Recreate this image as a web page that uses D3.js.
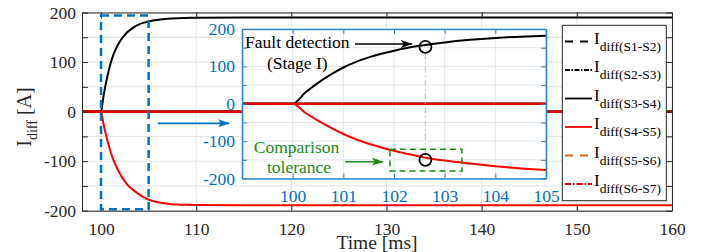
<!DOCTYPE html>
<html><head><meta charset="utf-8">
<script src="https://cdn.jsdelivr.net/npm/d3@7"></script>
<style>body{margin:0;background:#fff}svg{display:block}text{font-family:"Liberation Serif","Times New Roman",serif}</style>
</head><body><svg id="c" width="710" height="252"></svg>
<script>
// ---- data ----
const time = [98,100,100.25,100.5,100.75,101,101.25,101.5,101.75,102,102.25,102.5,102.75,103,103.5,104,104.5,105,106,107,108,109,110,115,120,130,140,150,160];
const iS34 = [0,0,30,56,78,97,112,124,134,142,149,155,160,164,171,176,179.5,182,185.5,187.5,188.5,189,189.5,190,190,190,190,190,190];
const iS45 = [0,0,-24,-45,-64,-81,-95,-107,-117,-126,-134,-141,-147,-152,-160,-167,-173,-177.5,-183,-186,-187.5,-188.2,-188.6,-189,-189,-189,-189,-189,-189];
const zeroT = [98,160];
const zeroI = [0,0];
const seriesNames = ["S1-S2","S2-S3","S3-S4","S4-S5","S5-S6","S6-S7"];
const seriesColors = ["#000000","#000000","#000000","#ff0000","#e8601c","#e00000"];
const seriesDash = ["8,7","5,1.5,1.5,1.5",null,null,"8,7","6,2,1.5,2"];
const mainXTicks = [100,110,120,130,140,150,160];
const mainYTicks = [-200,-150,-100,-50,0,50,100,150,200];
const insetXTicks = [100,101,102,103,104,105];
const insetYTicks = [-200,-150,-100,-50,0,50,100,150,200];
const detectT = 102.62, detectUp = 152, detectDown = -150;
const tolT = [101.92,103.34], tolI = [-180,-122];
const zoomT = [100,105], zoomI = [-197,194];

const svg = d3.select("#c");
const blue = "#0072BD";
const mx = d3.scaleLinear().domain([98,160]).range([82,672]);
const my = d3.scaleLinear().domain([-200,200]).range([210.7,12.5]);
const ix = d3.scaleLinear().domain([99,105]).range([242,546]);
const iy = d3.scaleLinear().domain([-200,200]).range([178.5,29]);

const defs = svg.append("defs");
defs.append("clipPath").attr("id","cm").append("rect").attr("x",82).attr("y",12.5).attr("width",590).attr("height",198.2);
defs.append("clipPath").attr("id","ci").append("rect").attr("x",242).attr("y",29).attr("width",304).attr("height",149.5);
function marker(id,color){
  defs.append("marker").attr("id",id).attr("viewBox","0 0 12 10").attr("refX",11).attr("refY",5)
   .attr("markerWidth",12).attr("markerHeight",10).attr("markerUnits","userSpaceOnUse").attr("orient","auto")
   .append("path").attr("d","M0,1 L12,5 L0,9 L3,5 Z").attr("fill",color);
}
marker("ab",blue); marker("ak","#000"); marker("ag","#1a8a1a");

// main grid
const mg = svg.append("g");
mainXTicks.forEach(t=>mg.append("line").attr("x1",mx(t)).attr("x2",mx(t)).attr("y1",12.5).attr("y2",210.7).attr("stroke","#e2e2e2"));
mainYTicks.forEach(v=>mg.append("line").attr("x1",82).attr("x2",672).attr("y1",my(v)).attr("y2",my(v)).attr("stroke","#e2e2e2"));

function drawSeries(g,xs,ys){
  const line = d3.line().x(d=>xs(d[0])).y(d=>ys(d[1])).curve(d3.curveMonotoneX);
  const zeroData = zeroT.map((t,i)=>[t,zeroI[i]]);
  [0,1,4].forEach(k=>g.append("path").attr("d",line(zeroData)).attr("fill","none").attr("stroke",seriesColors[k]).attr("stroke-width",2));
  g.append("path").attr("d",line(time.map((t,i)=>[t,iS34[i]]))).attr("fill","none").attr("stroke",seriesColors[2]).attr("stroke-width",2);
  g.append("path").attr("d",line(time.map((t,i)=>[t,iS45[i]]))).attr("fill","none").attr("stroke",seriesColors[3]).attr("stroke-width",2);
  g.append("path").attr("d",line(zeroData)).attr("fill","none").attr("stroke",seriesColors[5]).attr("stroke-width",2.2);
}
drawSeries(svg.append("g").attr("clip-path","url(#cm)"),mx,my);

// main axes
function fmt(d){return d%100===0?String(d):"";}
const ax = svg.append("g");
ax.append("g").attr("transform","translate(0,210.7)").call(d3.axisBottom(mx).tickValues(mainXTicks).tickSizeInner(-6).tickSizeOuter(0).tickPadding(12).tickFormat(String));
ax.append("g").attr("transform","translate(0,12.5)").call(d3.axisTop(mx).tickValues(mainXTicks).tickSizeInner(-6).tickSizeOuter(0).tickFormat(""));
ax.append("g").attr("transform","translate(82,0)").call(d3.axisLeft(my).tickValues(mainYTicks).tickSizeInner(-6).tickSizeOuter(0).tickPadding(6).tickFormat(fmt));
ax.append("g").attr("transform","translate(672,0)").call(d3.axisRight(my).tickValues(mainYTicks).tickSizeInner(-6).tickSizeOuter(0).tickFormat(""));
ax.selectAll("path.domain").attr("stroke","#262626");
ax.selectAll(".tick line").attr("stroke","#262626");
ax.selectAll("text").attr("font-family","Liberation Serif").attr("font-size",17.5).attr("fill","#262626");

// zoom rectangle + arrow
svg.append("rect").attr("x",mx(zoomT[0])).attr("y",my(zoomI[1])).attr("width",mx(zoomT[1])-mx(zoomT[0])).attr("height",my(zoomI[0])-my(zoomI[1]))
  .attr("fill","none").attr("stroke",blue).attr("stroke-width",2.5).attr("stroke-dasharray","8,5");
svg.append("line").attr("x1",157.7).attr("x2",229).attr("y1",123.3).attr("y2",123.3).attr("stroke",blue).attr("stroke-width",1.8).attr("marker-end","url(#ab)");

// axis labels
const yl = svg.append("text").attr("transform","translate(30.5,117) rotate(-90)").attr("text-anchor","middle").attr("fill","#262626");
yl.append("tspan").attr("font-size",20).text("I");
yl.append("tspan").attr("font-size",14).attr("dy",6).text("diff");
yl.append("tspan").attr("font-size",20).attr("dy",-6).text(" [A]");
svg.append("text").attr("x",377).attr("y",249).attr("text-anchor","middle").attr("font-size",19.5).attr("fill","#262626").text("Time [ms]");

// inset
svg.append("rect").attr("x",242).attr("y",29).attr("width",304).attr("height",149.5).attr("fill","#fff");
const ig = svg.append("g");
insetXTicks.forEach(t=>ig.append("line").attr("x1",ix(t)).attr("x2",ix(t)).attr("y1",29).attr("y2",178.5).attr("stroke","#dfe5ec"));
insetYTicks.forEach(v=>ig.append("line").attr("x1",242).attr("x2",546).attr("y1",iy(v)).attr("y2",iy(v)).attr("stroke","#dfe5ec"));
drawSeries(svg.append("g").attr("clip-path","url(#ci)"),ix,iy);

// annotations in inset
svg.append("line").attr("x1",ix(detectT)).attr("x2",ix(detectT)).attr("y1",iy(detectUp)+6).attr("y2",iy(detectDown)-6)
  .attr("stroke","#c4c4c4").attr("stroke-width",1.3).attr("stroke-dasharray","6,3,1.5,3");
svg.append("rect").attr("x",ix(tolT[0])).attr("y",iy(tolI[1])).attr("width",ix(tolT[1])-ix(tolT[0])).attr("height",iy(tolI[0])-iy(tolI[1]))
  .attr("fill","none").attr("stroke","#1a8a1a").attr("stroke-width",1.5).attr("stroke-dasharray","6,4");
[detectUp,detectDown].forEach(v=>svg.append("circle").attr("cx",ix(detectT)).attr("cy",iy(v)).attr("r",6).attr("fill","none").attr("stroke","#000").attr("stroke-width",1.8));
svg.append("line").attr("x1",355).attr("x2",411.7).attr("y1",44).attr("y2",44).attr("stroke","#000").attr("stroke-width",1.5).attr("marker-end","url(#ak)");
svg.append("line").attr("x1",345.3).attr("x2",382.7).attr("y1",161.7).attr("y2",161.7).attr("stroke","#1a8a1a").attr("stroke-width",1.5).attr("marker-end","url(#ag)");
const ta = svg.append("g").attr("font-size",17.5).attr("text-anchor","middle");
ta.append("text").attr("x",297.3).attr("y",48.3).attr("fill","#000").text("Fault detection");
ta.append("text").attr("x",297.3).attr("y",68.5).attr("fill","#000").text("(Stage I)");
ta.append("text").attr("x",296.5).attr("y",152.5).attr("fill","#1a8a1a").text("Comparison");
ta.append("text").attr("x",299).attr("y",173.3).attr("fill","#1a8a1a").text("tolerance");

const iax = svg.append("g");
iax.append("g").attr("transform","translate(0,178.5)").call(d3.axisBottom(ix).tickValues(insetXTicks).tickSizeInner(-5).tickSizeOuter(0).tickPadding(11).tickFormat(String));
iax.append("g").attr("transform","translate(0,29)").call(d3.axisTop(ix).tickValues(insetXTicks).tickSizeInner(-5).tickSizeOuter(0).tickFormat(""));
iax.append("g").attr("transform","translate(242,0)").call(d3.axisLeft(iy).tickValues(insetYTicks).tickSizeInner(-5).tickSizeOuter(0).tickPadding(7).tickFormat(fmt));
iax.append("g").attr("transform","translate(546,0)").call(d3.axisRight(iy).tickValues(insetYTicks).tickSizeInner(-5).tickSizeOuter(0).tickFormat(""));
iax.selectAll("path.domain").attr("stroke","#2f86c8").attr("stroke-width",1.6);
iax.selectAll(".tick line").attr("stroke","#2f86c8");
iax.selectAll("text").attr("font-family","Liberation Serif").attr("font-size",17.5).attr("fill",blue);

// legend
const lg = svg.append("g");
lg.append("rect").attr("x",562.3).attr("y",25.3).attr("width",104).attr("height",175.4).attr("fill","#fff").attr("stroke","#262626").attr("stroke-width",1);
seriesNames.forEach((n,i)=>{
  const b = 43.5 + 28.5*i;
  lg.append("line").attr("x1",565).attr("x2",592).attr("y1",b-2).attr("y2",b-2).attr("stroke",seriesColors[i]).attr("stroke-width",1.8)
    .attr("stroke-dasharray",seriesDash[i]);
  const t = lg.append("text").attr("x",594).attr("y",b).attr("fill","#000");
  t.append("tspan").attr("font-size",17).text("I");
  t.append("tspan").attr("font-size",13.5).attr("dy",7).text("diff(" + n + ")");
});
</script></body></html>
